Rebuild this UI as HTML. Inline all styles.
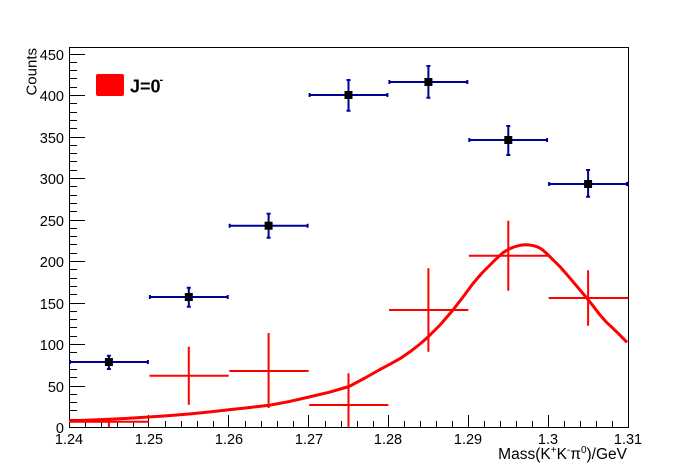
<!DOCTYPE html>
<html><head><meta charset="utf-8"><style>
html,body{margin:0;padding:0;background:#fff;}
svg{display:block;}
text{font-family:"Liberation Sans",Arial,sans-serif;fill:#000;}
</style></head><body>
<svg width="698" height="476" viewBox="0 0 698 476" xmlns="http://www.w3.org/2000/svg">
<rect width="698" height="476" fill="#fff"/>
<!-- frame -->
<rect x="69.5" y="47.5" width="559" height="380" fill="none" stroke="#000" stroke-width="1" shape-rendering="crispEdges"/>
<!-- y ticks -->
<path shape-rendering="crispEdges" stroke="#000" stroke-width="1" fill="none" d="
M69 427.5h16 M69 386.5h16 M69 344.5h16 M69 303.5h16 M69 261.5h16 M69 220.5h16 M69 178.5h16 M69 137.5h16 M69 95.5h16 M69 54.5h16
M69 419.5h8 M69 410.5h8 M69 402.5h8 M69 394.5h8
M69 377.5h8 M69 369.5h8 M69 361.5h8 M69 352.5h8
M69 336.5h8 M69 327.5h8 M69 319.5h8 M69 311.5h8
M69 294.5h8 M69 286.5h8 M69 278.5h8 M69 269.5h8
M69 253.5h8 M69 244.5h8 M69 236.5h8 M69 228.5h8
M69 211.5h8 M69 203.5h8 M69 195.5h8 M69 186.5h8
M69 170.5h8 M69 161.5h8 M69 153.5h8 M69 145.5h8
M69 128.5h8 M69 120.5h8 M69 112.5h8 M69 103.5h8
M69 87.5h8 M69 78.5h8 M69 70.5h8 M69 62.5h8
"/>
<!-- x ticks -->
<path shape-rendering="crispEdges" stroke="#000" stroke-width="1" fill="none" d="
M69.5 427v-12 M148.5 427v-12 M228.5 427v-12 M308.5 427v-12 M388.5 427v-12 M468.5 427v-12 M548.5 427v-12
M85.5 427v-6 M101.5 427v-6 M117.5 427v-6 M133.5 427v-6
M165.5 427v-6 M181.5 427v-6 M197.5 427v-6 M213.5 427v-6
M245.5 427v-6 M261.5 427v-6 M277.5 427v-6 M293.5 427v-6
M325.5 427v-6 M341.5 427v-6 M357.5 427v-6 M373.5 427v-6
M404.5 427v-6 M420.5 427v-6 M436.5 427v-6 M452.5 427v-6
M484.5 427v-6 M500.5 427v-6 M516.5 427v-6 M532.5 427v-6
M564.5 427v-6 M580.5 427v-6 M596.5 427v-6 M612.5 427v-6
"/>
<!-- y labels -->
<g font-size="14.5" text-anchor="end">
<text x="64" y="433">0</text>
<text x="64" y="392">50</text>
<text x="64" y="350">100</text>
<text x="64" y="309">150</text>
<text x="64" y="267">200</text>
<text x="64" y="226">250</text>
<text x="64" y="184">300</text>
<text x="64" y="143">350</text>
<text x="64" y="101">400</text>
<text x="64" y="60">450</text>
</g>
<!-- x labels -->
<g font-size="14.5" text-anchor="middle">
<text x="69" y="444">1.24</text>
<text x="149" y="444">1.25</text>
<text x="229" y="444">1.26</text>
<text x="309" y="444">1.27</text>
<text x="388" y="444">1.28</text>
<text x="468" y="444">1.29</text>
<text x="548" y="444">1.3</text>
<text x="628" y="444">1.31</text>
</g>
<!-- axis titles -->
<text x="627" y="459" font-size="15.5" text-anchor="end">Mass(K<tspan font-size="10" dy="-6">+</tspan><tspan dy="6">K</tspan><tspan font-size="10" dy="-6">-</tspan><tspan dy="6">π</tspan><tspan font-size="10" dy="-6">0</tspan><tspan dy="6">)/GeV</tspan></text>
<text transform="translate(36.5,48) rotate(-90)" font-size="15" text-anchor="end">Counts</text>
<!-- legend -->
<rect x="96" y="74" width="28" height="22" rx="2" ry="2" fill="#ff0000"/>
<text x="130" y="92.3" font-size="18" font-weight="bold">J=0</text>
<text x="159.5" y="83" font-size="11" font-weight="bold">-</text>

<!-- blue data -->
<g stroke="#000099" stroke-width="2" fill="none">
<path d="M69 362H148.9 M70 360V364 M147.9 360V364 M108.9 355.7V369 M106.9 355.7H110.9 M106.9 369H110.9"/>
<path d="M148.9 297H228.7 M149.9 295V299 M227.7 295V299 M188.8 287.7V306.7 M186.8 287.7H190.8 M186.8 306.7H190.8"/>
<path d="M228.7 225.7H308.6 M229.7 223.7V227.7 M307.6 223.7V227.7 M268.6 213.7V237.7 M266.6 213.7H270.6 M266.6 237.7H270.6"/>
<path d="M308.6 95H388.4 M309.6 93V97 M387.4 93V97 M348.5 80V110.7 M346.5 80H350.5 M346.5 110.7H350.5"/>
<path d="M388.4 82H468.3 M389.4 80V84 M467.3 80V84 M428.4 66V97.7 M426.4 66H430.4 M426.4 97.7H430.4"/>
<path d="M468.3 140H548.1 M469.3 138V142 M547.1 138V142 M508.3 126V155 M506.3 126H510.3 M506.3 155H510.3"/>
<path d="M548.1 184H628 M549.1 182V186 M627 182V186 M588.1 170V196.7 M586.1 170H590.1 M586.1 196.7H590.1"/>
</g>
<g fill="#000">
<rect x="104.9" y="358" width="8" height="8"/>
<rect x="184.8" y="293" width="8" height="8"/>
<rect x="264.6" y="221.7" width="8" height="8"/>
<rect x="344.5" y="91" width="8" height="8"/>
<rect x="424.4" y="78" width="8" height="8"/>
<rect x="504.3" y="136" width="8" height="8"/>
<rect x="584.1" y="180" width="8" height="8"/>
</g>

<!-- red histogram points -->
<g stroke="#ff0000" stroke-width="2" fill="none">
<path d="M69 421.7H148.9 M108.9 418.3V427"/>
<path d="M149.5 375.7H228.7 M188.8 346.7V404.7"/>
<path d="M229.3 371H308.6 M268.6 333V408"/>
<path d="M309.2 405H388.4 M348.5 373.3V427"/>
<path d="M389 310H468.3 M428.4 268.3V351.7"/>
<path d="M468.9 255.7H548.1 M508.3 220.7V290.7"/>
<path d="M548.7 298H628 M588.1 270.3V325.7"/>
</g>

<!-- red fit curve -->
<polyline fill="none" stroke="#ff0000" stroke-width="3" stroke-linejoin="round" stroke-linecap="butt"
points="69,420.7 89,420.1 109,419.3 129,418.3 149,417 169,415.6 189,414 209,412 229,409.8 249,407.6 269,405.3 289,401.6 309,397 329,392.3 349,386.5 365,378 380,369.5 390,364.2 400,358.6 410,351.8 420,344 428,337 440,325 453,310 463,297 473,283.5 482,273 490,265 496,259 500,255.4 503,252.7 506,250.8 510,248.6 514,247 518,245.8 522,245 526,244.8 530,245.05 534,245.8 538,247.1 542,249.4 547,253.8 553,259.8 560,266.7 566,273.5 573,281.7 580,290 587,298.3 593,305.8 600,315 606,321.8 613,328.3 620,335.2 627,342.3"/>
</svg>
</body></html>
